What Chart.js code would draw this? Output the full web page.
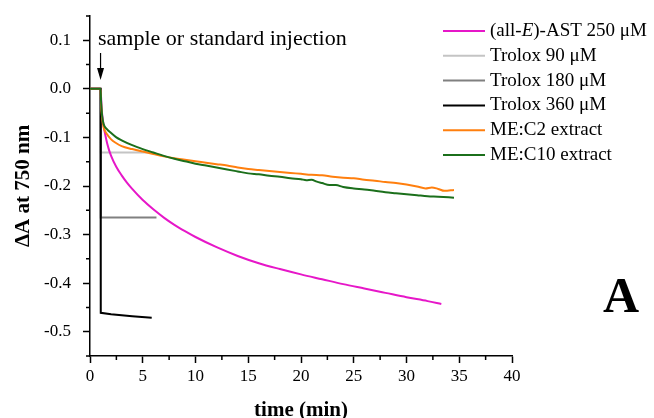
<!DOCTYPE html>
<html>
<head>
<meta charset="UTF-8">
<title>ΔA at 750 nm vs time</title>
<script src="https://cdn.jsdelivr.net/npm/chart.js"></script>
<style>
  body { margin: 0; background: #fff; }
  #wrap { width: 654px; height: 418px; }
</style>
</head>
<body>
<div id="wrap"><canvas id="chart" width="654" height="418"></canvas></div>
<script>
// series labels (text between * is italic)
const labels = ["(all-*E*)-AST 250 μM", "Trolox 90 μM", "Trolox 180 μM", "Trolox 360 μM", "ME:C2 extract", "ME:C10 extract"];
const colors = ["#e617c8", "#c4c4c4", "#808080", "#000000", "#ff7f0e", "#1b6f1b"];

// [time (min), ΔA]
const astData = [[0,0],[1.0,0],[1.1,-0.04],[1.25,-0.07],[1.5,-0.1],[1.75,-0.122],[2,-0.138],[2.5,-0.161],[3,-0.178],[3.5,-0.193],[4,-0.206],[5,-0.229],[6,-0.248],[7,-0.265],[8,-0.28],[9,-0.293],[10,-0.305],[12,-0.326],[14,-0.344],[16,-0.359],[18,-0.371],[20,-0.382],[22,-0.392],[24,-0.402],[26,-0.411],[28,-0.42],[30,-0.429],[32,-0.437],[33.3,-0.443]];
const trolox90 = [[0,0],[1,0],[1.02,-0.131],[6,-0.131]];
const trolox180 = [[0,0],[1,0],[1.02,-0.265],[6.3,-0.265]];
const trolox360 = [[0,0],[1,0],[1.02,-0.461],[2,-0.464],[3,-0.466],[4,-0.468],[5.85,-0.471]];
const c2Data = [[0,0],[1.0,0],[1.05,-0.03],[1.15,-0.06],[1.3,-0.08],[1.6,-0.093],[2,-0.104],[2.5,-0.112],[3,-0.118],[4,-0.124],[5,-0.129],[6,-0.134],[7,-0.139],[8,-0.143],[9,-0.146],[10,-0.149],[11,-0.152],[12,-0.155],[13,-0.158],[14,-0.162],[15,-0.165],[16,-0.167],[17,-0.169],[18,-0.171],[19,-0.173],[20,-0.175],[21,-0.177],[22,-0.178],[23,-0.181],[24,-0.183],[25,-0.184],[26,-0.187],[27,-0.189],[28,-0.192],[29,-0.194],[30,-0.197],[31,-0.201],[31.8,-0.205],[32.4,-0.203],[33,-0.206],[33.6,-0.21],[34.5,-0.208]];
const c10Data = [[0,0],[1.0,0],[1.05,-0.025],[1.15,-0.055],[1.3,-0.073],[1.6,-0.083],[2,-0.091],[2.5,-0.1],[3,-0.106],[4,-0.116],[5,-0.124],[6,-0.131],[7,-0.138],[8,-0.144],[9,-0.149],[10,-0.154],[11,-0.158],[12,-0.162],[13,-0.166],[14,-0.17],[15,-0.174],[16,-0.176],[17,-0.179],[18,-0.181],[19,-0.184],[20,-0.186],[20.5,-0.188],[21,-0.187],[21.5,-0.191],[22,-0.194],[22.7,-0.198],[23.3,-0.198],[24,-0.202],[25,-0.205],[26,-0.207],[27,-0.21],[28,-0.213],[29,-0.215],[30,-0.217],[31,-0.219],[32,-0.221],[33,-0.222],[34.5,-0.224]];

// axes
const xTicks = [0, 5, 10, 15, 20, 25, 30, 35, 40];
const xMinor = [2.5, 7.5, 12.5, 17.5, 22.5, 27.5, 32.5, 37.5];
const yTicks = [-0.5, -0.4, -0.3, -0.2, -0.1, 0.0, 0.1];
const yMinor = [-0.55, -0.45, -0.35, -0.25, -0.15, -0.05, 0.05, 0.15];
const injectionTime = 1.0;

Chart.defaults.font.family = "'Liberation Serif', 'DejaVu Serif', serif";
Chart.defaults.color = "#000";

const allSeries = [astData, trolox90, trolox180, trolox360, c2Data, c10Data];
const drawOrder = [2, 5, 4, 3, 1, 0]; // lower = on top
const smooth = [true, false, false, false, true, true];

const datasets = allSeries.map((s, i) => ({
    label: labels[i],
    data: s.map(p => ({ x: p[0], y: p[1] })),
    borderColor: colors[i],
    borderWidth: 2,
    pointRadius: 0,
    fill: false,
    cubicInterpolationMode: smooth[i] ? "monotone" : "default",
    tension: 0,
    order: drawOrder[i]
}));

// minor ticks, annotation, legend, panel letter
const extras = {
    id: "extras",
    afterDraw(chart) {
        const ctx = chart.ctx;
        const xs = chart.scales.x, ys = chart.scales.y;
        const area = chart.chartArea;
        ctx.save();
        ctx.strokeStyle = "#000";
        ctx.lineWidth = 1.5;
        ctx.beginPath();
        xMinor.forEach(v => {
            const px = xs.getPixelForValue(v);
            ctx.moveTo(px, area.bottom); ctx.lineTo(px, area.bottom + 4);
        });
        yMinor.forEach(v => {
            const py = ys.getPixelForValue(v);
            ctx.moveTo(area.left, py); ctx.lineTo(area.left - 4, py);
        });
        ctx.stroke();

        // injection arrow
        const ax = xs.getPixelForValue(injectionTime);
        ctx.font = "22px 'Liberation Serif'";
        ctx.fillStyle = "#000";
        ctx.textBaseline = "alphabetic";
        ctx.textAlign = "left";
        ctx.fillText("sample or standard injection", 98, 45);
        ctx.lineWidth = 1.2;
        ctx.beginPath();
        ctx.moveTo(ax, 53); ctx.lineTo(ax, 76);
        ctx.stroke();
        ctx.beginPath();
        ctx.moveTo(ax - 3.5, 68); ctx.lineTo(ax, 80); ctx.lineTo(ax + 3.5, 68);
        ctx.closePath();
        ctx.fill();

        // legend
        const lx0 = 443, lx1 = 485, tx = 490;
        ctx.textBaseline = "middle";
        chart.data.datasets.forEach((ds, i) => {
            const y = 31 + i * 24.8;
            ctx.strokeStyle = ds.borderColor;
            ctx.lineWidth = 2;
            ctx.beginPath();
            ctx.moveTo(lx0, y); ctx.lineTo(lx1, y);
            ctx.stroke();
            let x = tx;
            ds.label.split("*").forEach((part, k) => {
                ctx.font = (k % 2 ? "italic " : "") + "19px 'Liberation Serif'";
                ctx.fillText(part, x, y);
                x += ctx.measureText(part).width;
            });
        });

        // panel letter
        ctx.font = "bold 50px 'Liberation Serif'";
        ctx.textAlign = "center";
        ctx.textBaseline = "alphabetic";
        ctx.fillText("A", 621, 312);
        ctx.restore();
    }
};

new Chart(document.getElementById("chart"), {
    type: "line",
    data: { datasets: datasets },
    options: {
        responsive: false,
        animation: false,
        layout: { padding: { left: 0, top: 16, right: 142, bottom: 0 } },
        plugins: { legend: { display: false }, tooltip: { enabled: false } },
        scales: {
            x: {
                type: "linear",
                min: 0, max: 40,
                afterBuildTicks: s => { s.ticks = xTicks.map(v => ({ value: v })); },
                afterFit: s => { s.height = 62; s.paddingLeft = 0; s.paddingRight = 0; },
                ticks: { font: { size: 17 }, padding: 3, maxRotation: 0, autoSkip: false },
                grid: { drawOnChartArea: false, drawTicks: true, tickLength: 7, tickColor: "#000", tickWidth: 1.5 },
                border: { display: true, color: "#000", width: 1.5 },
                title: { display: true, text: "time (min)", font: { size: 21, weight: "bold" }, padding: { top: 0, bottom: -5 } }
            },
            y: {
                type: "linear",
                min: -0.55, max: 0.15,
                afterBuildTicks: s => { s.ticks = yTicks.map(v => ({ value: v })); },
                afterFit: s => { s.width = 90; s.paddingTop = 0; s.paddingBottom = 0; },
                ticks: { font: { size: 17 }, padding: 12, autoSkip: false,
                         callback: v => (Math.abs(v) < 1e-9 ? 0 : v).toFixed(1) },
                grid: { drawOnChartArea: false, drawTicks: true, tickLength: 7, tickColor: "#000", tickWidth: 1.5 },
                border: { display: true, color: "#000", width: 1.5 },
                title: { display: true, text: "ΔA at 750 nm", font: { size: 21, weight: "bold" }, padding: { top: 11, bottom: 0 } }
            }
        }
    },
    plugins: [extras]
});
</script>
</body>
</html>
